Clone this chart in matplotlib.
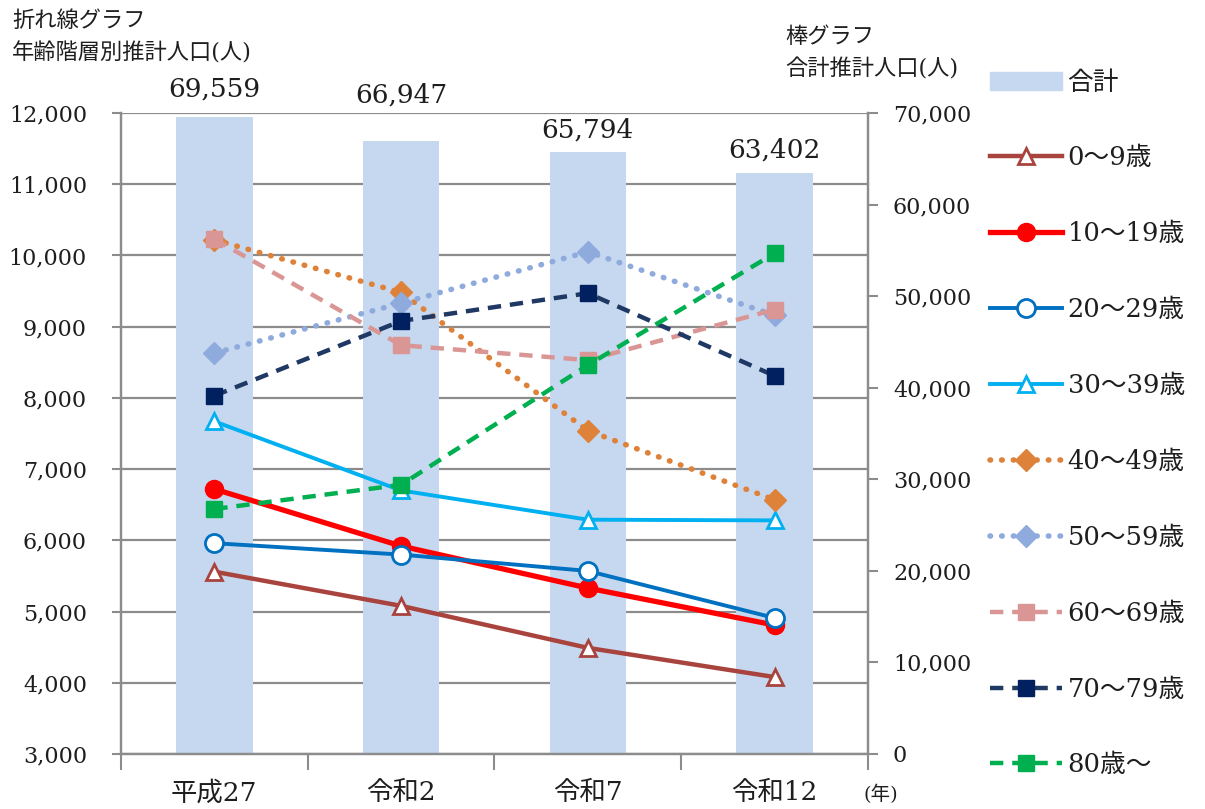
import matplotlib.pyplot as plt
import numpy as np
from matplotlib.patches import Patch
from matplotlib.ticker import StrMethodFormatter
from matplotlib.transforms import blended_transform_factory

plt.rcParams["font.family"] = ["DejaVu Serif", "Noto Sans CJK JP"]

years = ["平成27", "令和2", "令和7", "令和12"]
total = [69559, 66947, 65794, 63402]

age_labels = ["0～9歳", "10～19歳", "20～29歳", "30～39歳", "40～49歳",
              "50～59歳", "60～69歳", "70～79歳", "80歳～"]
age_0_9 = [5560, 5080, 4490, 4080]
age_10_19 = [6720, 5920, 5330, 4810]
age_20_29 = [5960, 5800, 5570, 4910]
age_30_39 = [7670, 6700, 6290, 6280]
age_40_49 = [10220, 9480, 7540, 6570]
age_50_59 = [8630, 9330, 10050, 9160]
age_60_69 = [10230, 8740, 8530, 9240]
age_70_79 = [8030, 9080, 9470, 8310]
age_80 = [6440, 6780, 8460, 10030]
series = [age_0_9, age_10_19, age_20_29, age_30_39, age_40_49,
          age_50_59, age_60_69, age_70_79, age_80]

DOT = (0, (0.1, 2.0))
DASH = (0, (3.0, 2.0))
styles = [
    dict(color="#A9433E", lw=3.2, ls="-", marker="^", ms=12, mfc="white", mec="#A9433E", mew=2),
    dict(color="#FF0000", lw=3.8, ls="-", marker="o", ms=13, mfc="#FF0000", mec="#FF0000", mew=1),
    dict(color="#0070C0", lw=2.8, ls="-", marker="o", ms=13, mfc="white", mec="#0070C0", mew=2),
    dict(color="#00B0F0", lw=2.8, ls="-", marker="^", ms=12, mfc="white", mec="#00B0F0", mew=2),
    dict(color="#DE8139", lw=4.0, ls=DOT, marker="D", ms=11, mfc="#DE8139", mec="#DE8139", mew=1),
    dict(color="#8FAADC", lw=4.0, ls=DOT, marker="D", ms=11, mfc="#8FAADC", mec="#8FAADC", mew=1),
    dict(color="#D99694", lw=3.2, ls=DASH, marker="s", ms=11, mfc="#D99694", mec="#D99694", mew=1),
    dict(color="#1F3864", lw=3.2, ls=DASH, marker="s", ms=11, mfc="#002060", mec="#002060", mew=1),
    dict(color="#00B050", lw=3.2, ls=DASH, marker="s", ms=11, mfc="#00B050", mec="#00B050", mew=1),
]

BAR = "#C6D8F0"
GRID = "#8C8C8C"
TXT = "#1E1E1E"
label_pad = [11, 24, 6.5, 8]


def main() -> None:
    fig = plt.figure(figsize=(12.05, 8.09), dpi=100, facecolor="white")
    ax_bar = fig.add_axes([0.1004, 0.068, 0.6199, 0.7923])
    ax = ax_bar.twinx()
    ax.set_zorder(ax_bar.get_zorder() + 1)
    ax.patch.set_visible(False)

    x = np.arange(len(years))

    # bars (right axis)
    bars = ax_bar.bar(x, total, width=0.41, color=BAR, zorder=1)
    ax_bar.set_ylim(0, 70000)
    ax_bar.set_xlim(-0.5, len(years) - 0.5)
    for b, v, p in zip(bars, total, label_pad):
        ax_bar.annotate(f"{v:,}", xy=(b.get_x() + b.get_width() / 2, v),
                        xytext=(0, p), textcoords="offset points",
                        ha="center", va="bottom", fontsize=19, color=TXT)

    # lines (left axis)
    for vals, lab, st in zip(series, age_labels, styles):
        ax.plot(x, vals, label=lab, color=st["color"], lw=st["lw"], ls=st["ls"],
                marker=st["marker"], ms=st["ms"], mfc=st["mfc"], mec=st["mec"],
                mew=st["mew"], dash_capstyle="round" if st["ls"] == DOT else "butt",
                zorder=3)
    ax.set_ylim(3000, 12000)
    left_ticks = np.arange(3000, 12001, 1000)
    ax.set_yticks(left_ticks)

    # grid lines behind the bars, in left-axis units
    trans = blended_transform_factory(ax_bar.transAxes, ax.transData)
    for v in left_ticks:
        ax_bar.plot([0, 1], [v, v], transform=trans, color=GRID, lw=1.6, zorder=0.5)
    ax_bar.set_ylim(0, 70000)

    ax.yaxis.tick_left()
    ax_bar.yaxis.tick_right()
    ax_bar.set_yticks(np.arange(0, 70001, 10000))
    ax.yaxis.set_major_formatter(StrMethodFormatter("{x:,.0f}"))
    ax_bar.yaxis.set_major_formatter(StrMethodFormatter("{x:,.0f}"))
    ax.tick_params(axis="y", direction="out", length=6.5, width=1.5, color=GRID,
                   pad=18, labelsize=16, labelcolor=TXT)
    ax_bar.tick_params(axis="y", direction="out", length=7, width=1.5, color=GRID,
                       pad=11, labelsize=16, labelcolor=TXT)

    ax_bar.set_xticks(np.arange(-0.5, len(years), 1.0))
    ax_bar.set_xticklabels([])
    ax_bar.set_xticks(x, minor=True)
    ax_bar.set_xticklabels(years, minor=True)
    ax_bar.tick_params(axis="x", which="major", direction="out", length=11.5,
                       width=1.5, color=GRID)
    ax_bar.tick_params(axis="x", which="minor", length=0, pad=19, labelsize=19,
                       labelcolor=TXT)

    for a in (ax, ax_bar):
        for s in a.spines.values():
            s.set_color(GRID)
            s.set_linewidth(1.6)
        a.spines["top"].set_visible(False)

    # legend
    handles = [Patch(facecolor=BAR, edgecolor=BAR, label="合計")]
    handles += ax.get_legend_handles_labels()[0]
    fig.legend(handles=handles, loc="upper left", bbox_to_anchor=(0.8216, 0.914),
               frameon=False, fontsize=18.5, handlelength=2.8, handletextpad=0.22,
               labelspacing=1.98, borderpad=0, borderaxespad=0, labelcolor=TXT)

    fig.text(12 / 1205, 1 - 10 / 809, "折れ線グラフ\n年齢階層別推計人口(人)",
             ha="left", va="top", fontsize=16, linespacing=1.6, color=TXT)
    fig.text(785 / 1205, 1 - 26 / 809, "棒グラフ\n合計推計人口(人)",
             ha="left", va="top", fontsize=16, linespacing=1.6, color=TXT)
    fig.text(881 / 1205, 1 - 794 / 809, "(年)", ha="center", va="center",
             fontsize=14, color=TXT)

    fig.savefig("out.png", dpi=100, facecolor="white")


if __name__ == "__main__":
    main()
